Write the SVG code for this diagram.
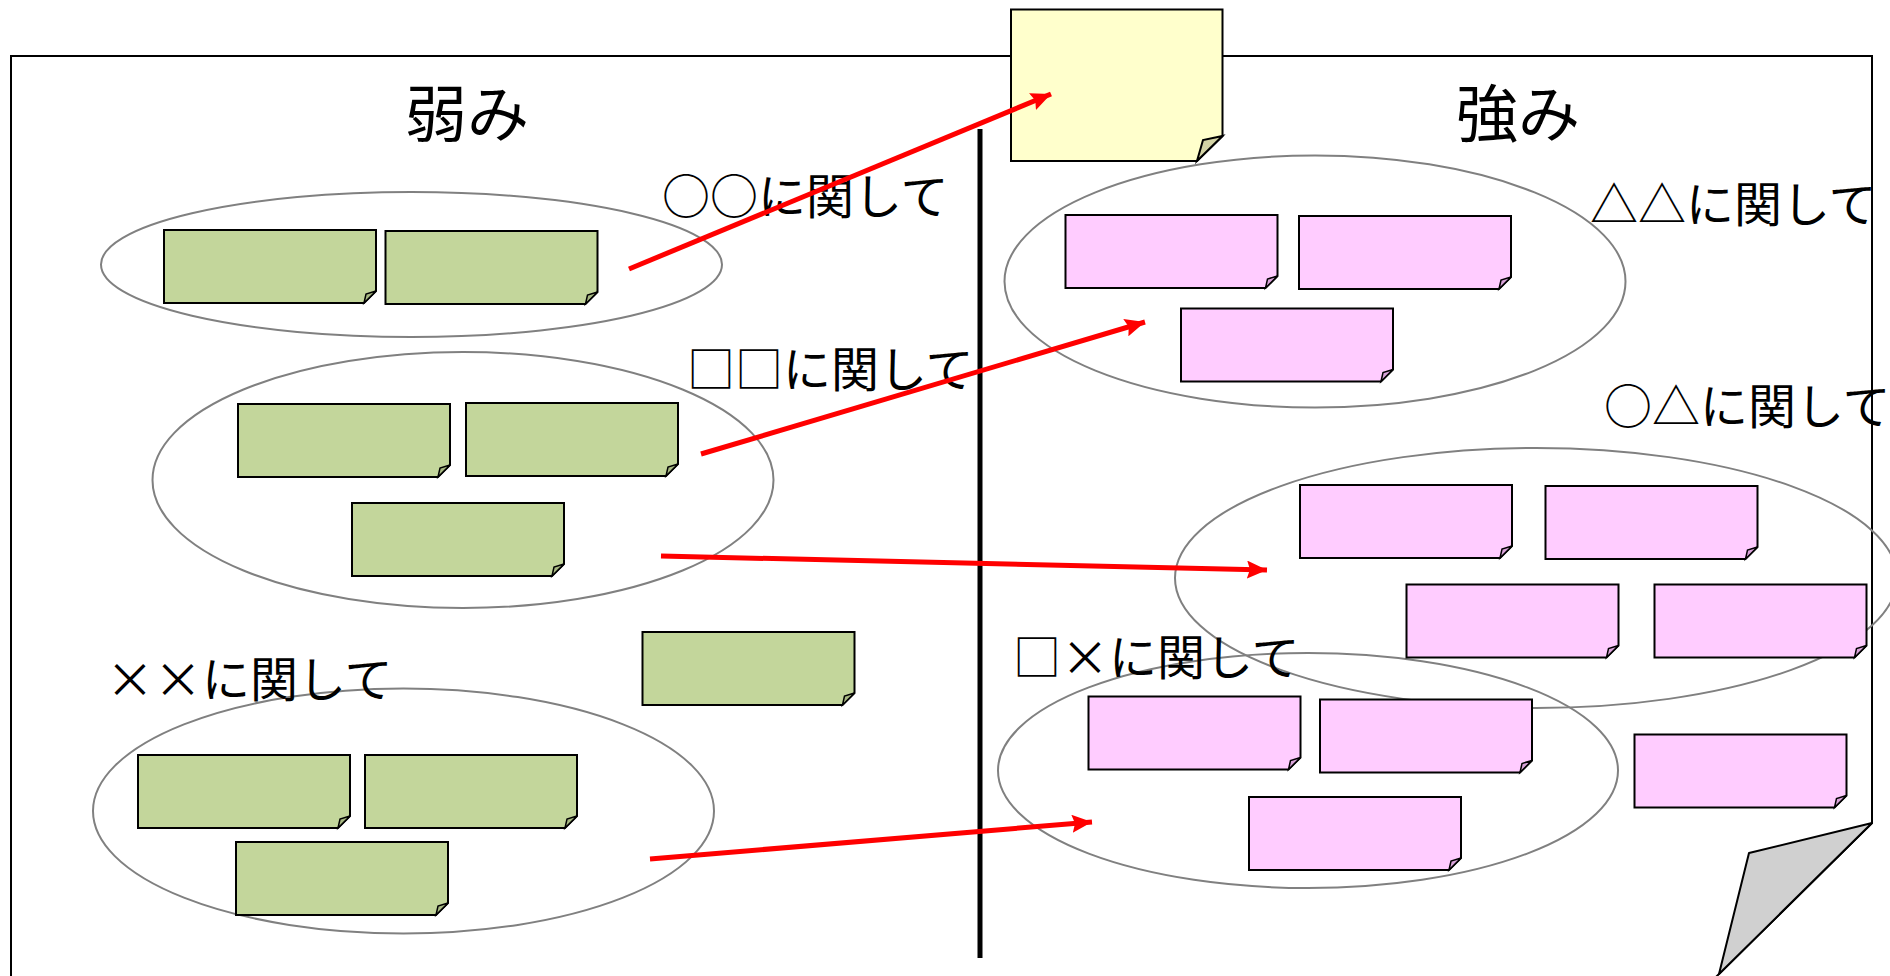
<svg xmlns="http://www.w3.org/2000/svg" width="1890" height="976" viewBox="0 0 1890 976">
<defs>
<style>
.frame{fill:#ffffff;stroke:#000;stroke-width:2}
.curl{fill:#d0d0d0;stroke:#000;stroke-width:2;stroke-linejoin:round}
.divider{stroke:#000;stroke-width:5}
.group{fill:none;stroke:#808080;stroke-width:2}
.g{fill:#c3d69b;stroke:#000;stroke-width:2}
.gf{fill:#a7b882;stroke:#000;stroke-width:1.5}
.p{fill:#ffccff;stroke:#000;stroke-width:2}
.pf{fill:#d9a3d9;stroke:#000;stroke-width:1.5}
.y{fill:#ffffcc;stroke:#000;stroke-width:2}
.yf{fill:#d4d4a6;stroke:#000;stroke-width:2}
.lbl{font-family:"Noto Sans CJK JP","Noto Sans",sans-serif;font-size:48px;fill:#000}
.head{font-family:"Noto Sans CJK JP","Noto Sans",sans-serif;font-size:62px;fill:#000}
.arr{stroke:#ff0000;stroke-width:5;fill:none;marker-end:url(#ah)}
</style>
<marker id="ah" markerUnits="userSpaceOnUse" markerWidth="22" markerHeight="18" refX="20" refY="9" orient="auto">
<path d="M0,0 L20,9 L0,18 L3,9 Z" fill="#ff0000"/>
</marker>
</defs>

<g id="page">
<path class="frame" d="M11,995 V56 H1872 V823 L1697.7,995"/>
<polygon class="curl" points="1872,823 1749,853 1719,974"/>
<line class="divider" x1="980" y1="129" x2="980" y2="958"/>
</g>

<g id="groups">
<ellipse id="grp-oo" class="group" cx="411.5" cy="264.5" rx="310.5" ry="72.5"/>
<ellipse id="grp-ss" class="group" cx="463" cy="480" rx="310.5" ry="128"/>
<ellipse id="grp-xx" class="group" cx="403.5" cy="811" rx="310.5" ry="122.5"/>
<ellipse id="grp-tt" class="group" cx="1315" cy="281.5" rx="310.5" ry="126"/>
<ellipse id="grp-ot" class="group" cx="1536" cy="578" rx="361" ry="130"/>
<ellipse id="grp-sx" class="group" cx="1308" cy="770.5" rx="310" ry="117.5"/>
</g>

<g id="weak-notes">
<g id="g1" transform="translate(164,230)"><path class="g" d="M0,0 H212 V61 L200,73 H0 Z"/><path class="gf" d="M212,61 L200,73 L202,64 Z"/></g>
<g id="g2" transform="translate(385.5,231)"><path class="g" d="M0,0 H212 V61 L200,73 H0 Z"/><path class="gf" d="M212,61 L200,73 L202,64 Z"/></g>
<g id="g3" transform="translate(238,404)"><path class="g" d="M0,0 H212 V61 L200,73 H0 Z"/><path class="gf" d="M212,61 L200,73 L202,64 Z"/></g>
<g id="g4" transform="translate(466,403)"><path class="g" d="M0,0 H212 V61 L200,73 H0 Z"/><path class="gf" d="M212,61 L200,73 L202,64 Z"/></g>
<g id="g5" transform="translate(352,503)"><path class="g" d="M0,0 H212 V61 L200,73 H0 Z"/><path class="gf" d="M212,61 L200,73 L202,64 Z"/></g>
<g id="g6" transform="translate(642.5,632)"><path class="g" d="M0,0 H212 V61 L200,73 H0 Z"/><path class="gf" d="M212,61 L200,73 L202,64 Z"/></g>
<g id="g7" transform="translate(138,755)"><path class="g" d="M0,0 H212 V61 L200,73 H0 Z"/><path class="gf" d="M212,61 L200,73 L202,64 Z"/></g>
<g id="g8" transform="translate(365,755)"><path class="g" d="M0,0 H212 V61 L200,73 H0 Z"/><path class="gf" d="M212,61 L200,73 L202,64 Z"/></g>
<g id="g9" transform="translate(236,842)"><path class="g" d="M0,0 H212 V61 L200,73 H0 Z"/><path class="gf" d="M212,61 L200,73 L202,64 Z"/></g>
</g>

<g id="strong-notes">
<g id="p1" transform="translate(1065.5,215)"><path class="p" d="M0,0 H212 V61 L200,73 H0 Z"/><path class="pf" d="M212,61 L200,73 L202,64 Z"/></g>
<g id="p2" transform="translate(1299,216)"><path class="p" d="M0,0 H212 V61 L200,73 H0 Z"/><path class="pf" d="M212,61 L200,73 L202,64 Z"/></g>
<g id="p3" transform="translate(1181,308.5)"><path class="p" d="M0,0 H212 V61 L200,73 H0 Z"/><path class="pf" d="M212,61 L200,73 L202,64 Z"/></g>
<g id="p4" transform="translate(1300,485)"><path class="p" d="M0,0 H212 V61 L200,73 H0 Z"/><path class="pf" d="M212,61 L200,73 L202,64 Z"/></g>
<g id="p5" transform="translate(1545.5,486)"><path class="p" d="M0,0 H212 V61 L200,73 H0 Z"/><path class="pf" d="M212,61 L200,73 L202,64 Z"/></g>
<g id="p6" transform="translate(1406.5,584.5)"><path class="p" d="M0,0 H212 V61 L200,73 H0 Z"/><path class="pf" d="M212,61 L200,73 L202,64 Z"/></g>
<g id="p7" transform="translate(1654.5,584.5)"><path class="p" d="M0,0 H212 V61 L200,73 H0 Z"/><path class="pf" d="M212,61 L200,73 L202,64 Z"/></g>
<g id="p8" transform="translate(1088.5,696.5)"><path class="p" d="M0,0 H212 V61 L200,73 H0 Z"/><path class="pf" d="M212,61 L200,73 L202,64 Z"/></g>
<g id="p9" transform="translate(1320,699.5)"><path class="p" d="M0,0 H212 V61 L200,73 H0 Z"/><path class="pf" d="M212,61 L200,73 L202,64 Z"/></g>
<g id="p10" transform="translate(1249,797)"><path class="p" d="M0,0 H212 V61 L200,73 H0 Z"/><path class="pf" d="M212,61 L200,73 L202,64 Z"/></g>
<g id="p11" transform="translate(1634.5,734.5)"><path class="p" d="M0,0 H212 V61 L200,73 H0 Z"/><path class="pf" d="M212,61 L200,73 L202,64 Z"/></g>
</g>

<g id="target-note">
<path class="y" d="M1011,9.5 H1222.5 V136 L1197,161 H1011 Z"/>
<path class="yf" d="M1222.5,136 L1197,161 L1203,140 Z"/>
</g>

<g id="labels">
<text id="t-weak" class="head" x="405" y="137">弱み</text>
<text id="t-strong" class="head" x="1456" y="137">強み</text>
<text id="t-oo" class="lbl" x="662" y="214">○○に関して</text>
<text id="t-ss" class="lbl" x="687" y="387">□□に関して</text>
<text id="t-tt" class="lbl" x="1590" y="222">△△に関して</text>
<text id="t-ot" class="lbl" x="1604" y="424">○△に関して</text>
<text id="t-sx" class="lbl" x="1013" y="675">□×に関して</text>
<text id="t-xx" class="lbl" x="106" y="697">××に関して</text>
</g>

<g id="connectors">
<line class="arr" x1="629" y1="269" x2="1051" y2="94"/>
<line class="arr" x1="701" y1="454" x2="1145" y2="322"/>
<line class="arr" x1="661" y1="556" x2="1267" y2="570"/>
<line class="arr" x1="650" y1="859" x2="1092" y2="822"/>
</g>
</svg>
